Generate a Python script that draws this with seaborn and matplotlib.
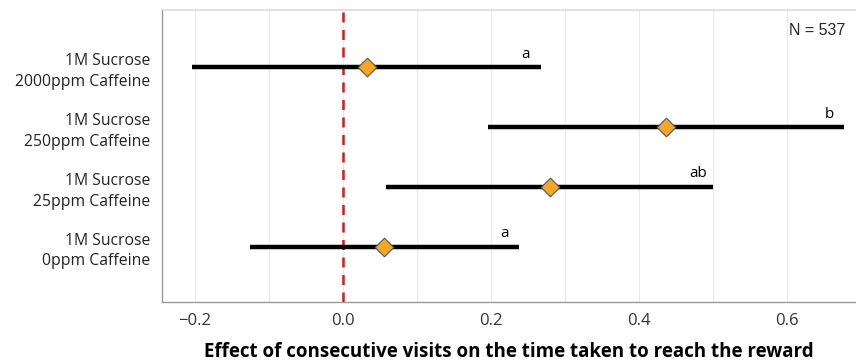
import matplotlib
matplotlib.use("Agg")
import matplotlib.pyplot as plt
import seaborn as sns
import pandas as pd
from matplotlib.ticker import MultipleLocator

categories = ["1M Sucrose\n0ppm Caffeine", "1M Sucrose\n25ppm Caffeine",
              "1M Sucrose\n250ppm Caffeine", "1M Sucrose\n2000ppm Caffeine"]
estimates = [0.056, 0.279, 0.436, 0.032]
lower = [-0.125, 0.058, 0.196, -0.204]
upper = [0.238, 0.500, 0.677, 0.267]
letters = ["a", "ab", "b", "a"]
xticks = [-0.2, 0.0, 0.2, 0.4, 0.6]
xticklabels = ["\u22120.2", "0.0", "0.2", "0.4", "0.6"]

sns.set_theme(style="white")
plt.rcParams['font.family'] = ['Open Sans', 'DejaVu Sans']

df = pd.DataFrame({"cat": categories, "est": estimates, "lo": lower, "hi": upper,
                   "pos": range(1, len(categories) + 1), "letter": letters})

fig = plt.figure(figsize=(8.56, 3.63), dpi=100)
ax = fig.add_axes([0.189, 0.169, 0.811, 0.803])

ax.xaxis.set_major_locator(MultipleLocator(0.2))
ax.xaxis.set_minor_locator(MultipleLocator(0.1))
ax.grid(True, axis="x", which="both", color="#ebebeb", linewidth=0.9)
ax.set_axisbelow(True)

ax.axvline(0, color="#d7191c", linestyle=(0, (4, 3)), linewidth=1.8, zorder=2)
ax.hlines(df["pos"], df["lo"], df["hi"], color="black", linewidth=3.2, zorder=3)
sns.scatterplot(data=df, x="est", y="pos", marker="D", s=90, color="#F5A623",
                edgecolor="#555555", linewidth=0.8, zorder=4, ax=ax, legend=False)

for _, r in df.iterrows():
    ax.text(r["hi"] - 0.02, r["pos"] + 0.09, r["letter"], ha="center", va="bottom",
            fontsize=11, color="black")

ax.text(0.985, 0.955, "N = 537", transform=ax.transAxes, ha="right", va="top",
        fontsize=11.5, family=["Liberation Sans", "DejaVu Sans"])

ax.set_xlim(-0.2443, 0.6926)
ax.set_ylim(0.079, 4.955)
ax.set_yticks(df["pos"])
ax.set_yticklabels(df["cat"], fontsize=11.3, color="#222222", linespacing=1.4)
ax.set_xticks(xticks)
ax.set_xticklabels(xticklabels, fontsize=12, color="#333333")
ax.set_ylabel("")
ax.set_xlabel("Effect of consecutive visits on the time taken to reach the reward",
              fontsize=13.5, fontweight="bold", labelpad=9.5, color="black")

for s in ["left", "bottom"]:
    ax.spines[s].set_color("#999999")
    ax.spines[s].set_linewidth(1.0)
ax.spines["top"].set_color("#dddddd")
ax.spines["right"].set_visible(False)
ax.tick_params(axis="both", which="major", length=3, color="#999999", width=0.8, pad=5)
ax.tick_params(axis="x", which="minor", length=0)

fig.savefig("out.png", dpi=100)
